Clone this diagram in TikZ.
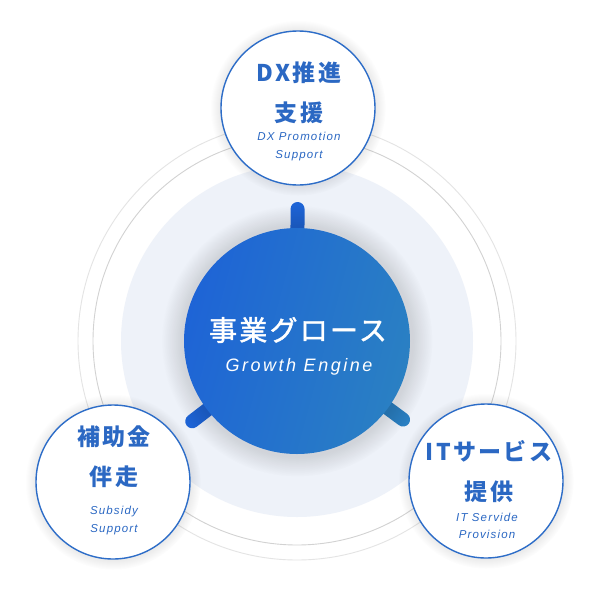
\documentclass[tikz,border=0pt]{standalone}
\usepackage{fontspec}
\newfontfamily\jpfont[LetterSpace=10]{Noto Sans CJK JP}
\newfontfamily\jpmid[LetterSpace=8, FakeBold=1.5]{Noto Sans CJK JP}
\newfontfamily\enfont[LetterSpace=10]{Liberation Sans}
\newfontfamily\enwide[LetterSpace=14]{Liberation Sans}
\usetikzlibrary{calc,shadows}

\definecolor{titleblue}{HTML}{2B68C3}
\definecolor{edgeblue}{HTML}{2D6DC8}
\definecolor{hubleft}{HTML}{1E64D6}
\definecolor{hubright}{HTML}{2A80C3}
\definecolor{paledisc}{HTML}{EEF2F9}
\definecolor{ringin}{HTML}{D2D2D2}
\definecolor{ringout}{HTML}{E4E4E4}

\tikzset{
  bubble/.style={circle, draw=edgeblue, line width=1.4pt, fill=white, minimum size=154pt, inner sep=0pt,
    circular drop shadow={shadow xshift=0pt, shadow yshift=0pt, shadow scale=1.14, fill=black, opacity=0.10}},
  title/.style={text=titleblue, align=center, font=\jpfont\bfseries\fontsize{23}{40}\selectfont},
  sub/.style={text=titleblue, align=center, font=\enfont\itshape\fontsize{11.5}{18}\selectfont},
  stub/.style={line width=14pt, line cap=round},
}

\begin{document}
\begin{tikzpicture}[x=1pt, y=-1pt]
    \useasboundingbox[fill=white] (0,0) rectangle (600,595);
    \coordinate (hub) at (297, 341);

    % rings and pale disc
    \draw[ringout, line width=0.9pt] (hub) circle[radius=219pt];
    \draw[ringin, line width=0.9pt] (hub) circle[radius=204pt];
    \fill[paledisc] (hub) circle[radius=176pt];

    % outer circles
    \node (dx) at (298, 108) [bubble] {};
    \node (hojo) at (113, 482) [bubble] {};
    \node (it) at (486, 481) [bubble] {};

    % stubs
    \draw[stub, hubleft] ($(hub)!100pt!(dx)$) -- ($(hub)!132pt!(dx)$);
    \draw[stub, hubleft] ($(hub)!100pt!(hojo)$) -- ($(hub)!132pt!(hojo)$);
    \draw[stub, hubright] ($(hub)!100pt!(it)$) -- ($(hub)!132pt!(it)$);

    % center
    \node (engine) at (hub) [circle, minimum size=226pt, inner sep=0pt, left color=hubleft, right color=hubright, shading angle=75,
      circular drop shadow={shadow xshift=0pt, shadow yshift=0pt, shadow scale=1.2, fill=black, opacity=0.12}] {};
    \node (engineTitle) at (298, 330) [text=white, font=\jpmid\fontsize{28}{30}\selectfont] {事業グロース};
    \node (engineSub) at (299, 367) [text=white, font=\enwide\itshape\fontsize{18}{20}\selectfont] {Growth Engine};

    % labels
    \node (dxTitle) at (299, 92.5) [title] {DX推進\\支援};
    \node (dxSub) at (299, 146.5) [sub] {DX Promotion\\Support};
    \node (hojoTitle) at (114, 456.5) [title] {補助金\\伴走};
    \node (hojoSub) at (114, 521) [sub] {Subsidy\\Support};
    \node (itTitle) at (489, 472) [title] {ITサービス\\提供};
    \node (itSub) at (487, 526) [sub, font=\enfont\itshape\fontsize{11.5}{16.5}\selectfont] {IT Servide\\Provision};
\end{tikzpicture}
\end{document}
